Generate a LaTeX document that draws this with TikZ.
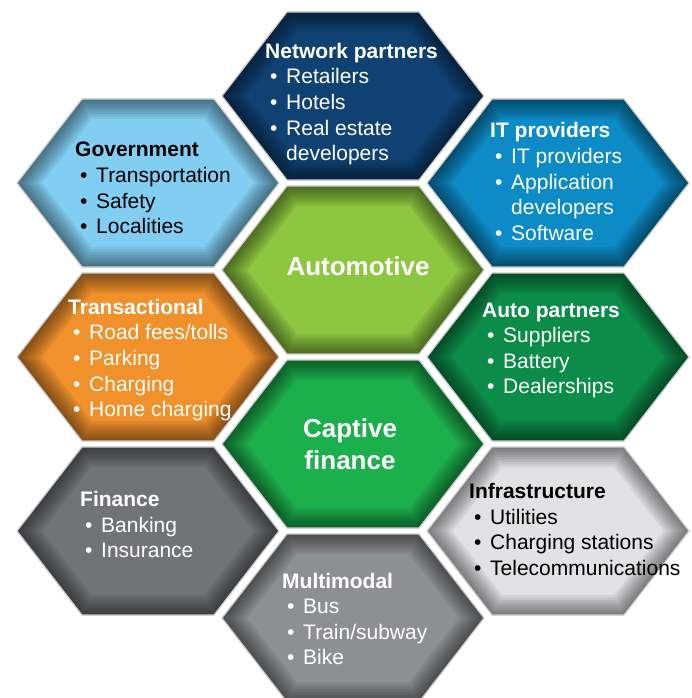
\documentclass[tikz,border=0pt]{standalone}
\usepackage{fontspec}
\setmainfont{Liberation Sans}
\usepackage{xcolor}
\usetikzlibrary{positioning}
\definecolor{navyx}{HTML}{0F4273}
\definecolor{skyx}{HTML}{82CEF2}
\definecolor{bluex}{HTML}{0C8BC6}
\definecolor{limex}{HTML}{8DC63F}
\definecolor{orangex}{HTML}{F0912C}
\definecolor{greenx}{HTML}{0C8C49}
\definecolor{leafx}{HTML}{1CB04D}
\definecolor{grayx}{HTML}{727376}
\definecolor{silverx}{HTML}{E2E2E5}
\definecolor{stonex}{HTML}{8E8F92}
\tikzset{
  hexpath/.style={insert path={++(-131,0) -- ++(65,-84) -- ++(132,0) -- ++(65,84) -- ++(-65,84) -- ++(-132,0) -- cycle}},
  blurb/.style={anchor=west,align=left,inner sep=0pt,font=\fontsize{21}{25.6}\selectfont},
  core/.style={align=center,inner sep=0pt,white,font=\fontsize{26}{32}\selectfont\bfseries}
}
\newcommand\itm{\hspace*{5pt}\makebox[16pt][l]{\textbullet}}
\newcommand\cont{\hspace*{21pt}}

\begin{document}
\begin{tikzpicture}[x=1pt,y=-1pt]
\fill[white] (0,0) rectangle (692,698);
\useasboundingbox (0,0) rectangle (692,698);
% honeycomb cells, darker towards the rim
\foreach \n/\x/\y/\c in {net/353/96/navyx,gov/148/183/skyx,itp/558/183/bluex,auto/353/270/limex,
  trans/148/357/orangex,apart/558/357/greenx,capt/353/444/leafx,fin/148/531/grayx,
  infra/558/531/silverx,multi/353/618/stonex}{
  \coordinate (\n) at (\x,\y);
  \begin{scope}
    \clip (\n) [hexpath];
    \fill[\c] (\n) [hexpath];
    \foreach \w in {5,10,...,40}{\draw[black,opacity=0.065,line width=\w pt,line join=round] (\n) [hexpath];}
  \end{scope}
  \draw[gray!40,line width=1.2pt,line join=round] (\n) [hexpath];
}
\node[core] (autotext) at (358,266) {Automotive};
\node[core] (capttext) at (350,444) {Captive\\finance};
\node[blurb,white] (nettext) at (265,104) {\textbf{Network partners}\\\itm Retailers\\\itm Hotels\\\itm Real estate\\\cont developers};
\node[blurb,black] (govtext) at (75,188) {\textbf{Government}\\\itm Transportation\\\itm Safety\\\itm Localities};
\node[blurb,white] (itptext) at (490,181.5) {\textbf{IT providers}\\\itm IT providers\\\itm Application\\\cont developers\\\itm Software};
\node[blurb,white] (transtext) at (68,360) {\textbf{Transactional}\\\itm Road fees/tolls\\\itm Parking\\\itm Charging\\\itm Home charging};
\node[blurb,white] (aparttext) at (482,350.5) {\textbf{Auto partners}\\\itm Suppliers\\\itm Battery\\\itm Dealerships};
\node[blurb,white] (fintext) at (80,524.5) {\textbf{Finance}\\\itm Banking\\\itm Insurance};
\node[blurb,black] (infratext) at (469,529.5) {\textbf{Infrastructure}\\\itm Utilities\\\itm Charging stations\\\itm Telecommunications};
\node[blurb,white] (multitext) at (282,619) {\textbf{Multimodal}\\\itm Bus\\\itm Train/subway\\\itm Bike};
\end{tikzpicture}
\end{document}
